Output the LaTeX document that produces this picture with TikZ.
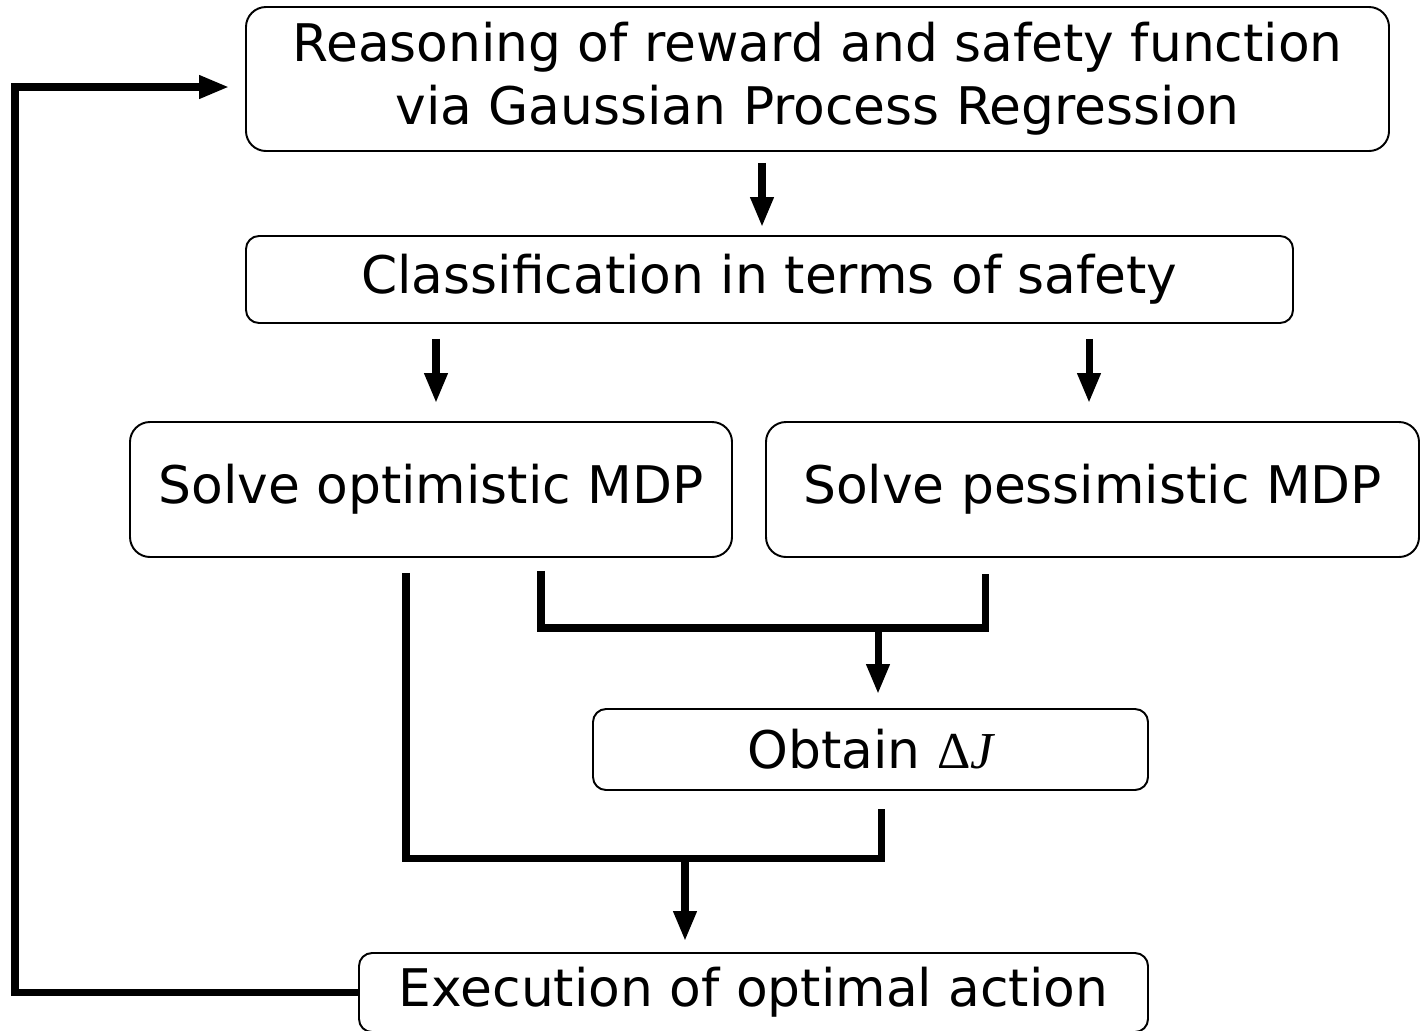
\documentclass[tikz,border=0pt]{standalone}
\usepackage{fontspec}
\setmainfont{DejaVu Sans}
\newfontfamily\symbolfont{Liberation Serif}
\usetikzlibrary{arrows.meta, positioning, calc}

\tikzset{
  procbox/.style={draw, line width=1.1pt, rounded corners=4mm, align=center,
    inner sep=0pt, font=\fontsize{29.5}{36}\selectfont},
  flowline/.style={line width=4pt},
  flowarrow/.style={flowline, -{Triangle[length=6mm, width=4.4mm]}},
}

\begin{document}
\begin{tikzpicture}[x=0.2mm, y=-0.2mm]
  \useasboundingbox (0,0) rectangle (1421,1030);

  % Process boxes
  \node[procbox, minimum width=228.6mm, minimum height=28.8mm] (reason) at (817.5,79)
    {Reasoning of reward and safety function\\via Gaussian Process Regression};
  \node[procbox, rounded corners=2.6mm, minimum width=209.4mm, minimum height=17.4mm] (classify) at (769.5,279.5)
    {Classification in terms of safety};
  \node[procbox, minimum width=120.4mm, minimum height=27mm] (optim) at (431,489.5)
    {Solve optimistic MDP};
  \node[procbox, minimum width=130.6mm, minimum height=27mm] (pessim) at (1092.5,489.5)
    {Solve pessimistic MDP};
  \node[procbox, rounded corners=2.6mm, minimum width=111mm, minimum height=16.2mm] (obtain) at (870.5,749.5)
    {Obtain {\symbolfont Δ\itshape J}};
  \node[procbox, rounded corners=2.6mm, minimum width=157.8mm, minimum height=15.8mm] (execute) at (753.5,992.5)
    {Execution of optimal action};

  % Downward arrows
  \draw[flowarrow, shorten <=2.2mm, shorten >=1.6mm] (reason.south -| 762,0) -- (classify.north -| 762,0);
  \draw[flowarrow, shorten <=3mm, shorten >=3.6mm] (classify.south -| 436,0) -- (optim.north -| 436,0);
  \draw[flowarrow, shorten <=3mm, shorten >=3.6mm] (classify.south -| 1089,0) -- (pessim.north -| 1089,0);

  % Merge of both MDP results
  \coordinate (join1) at (878,628);
  \draw[flowline, shorten <=2.6mm, shorten >=3.2mm] (optim.south -| 541,0) -- (541,628) -- (985,628) -- (pessim.south -| 985,0);
  \draw[flowarrow, shorten >=2.8mm] (join1) -- (obtain.north -| join1);

  % Merge towards execution
  \coordinate (join2) at (685,858);
  \draw[flowline, shorten <=3mm, shorten >=3.6mm] (optim.south -| 406,0) -- (406,858) -- (881,858) -- (obtain.south -| 881,0);
  \draw[flowarrow, shorten >=2.2mm] (join2) -- (execute.north -| join2);

  % Feedback loop
  \coordinate (loopcorner) at (15,87);
  \draw[flowarrow, shorten >=3.2mm] (execute.west) -| (loopcorner) -- (reason.west |- loopcorner);
\end{tikzpicture}
\end{document}
